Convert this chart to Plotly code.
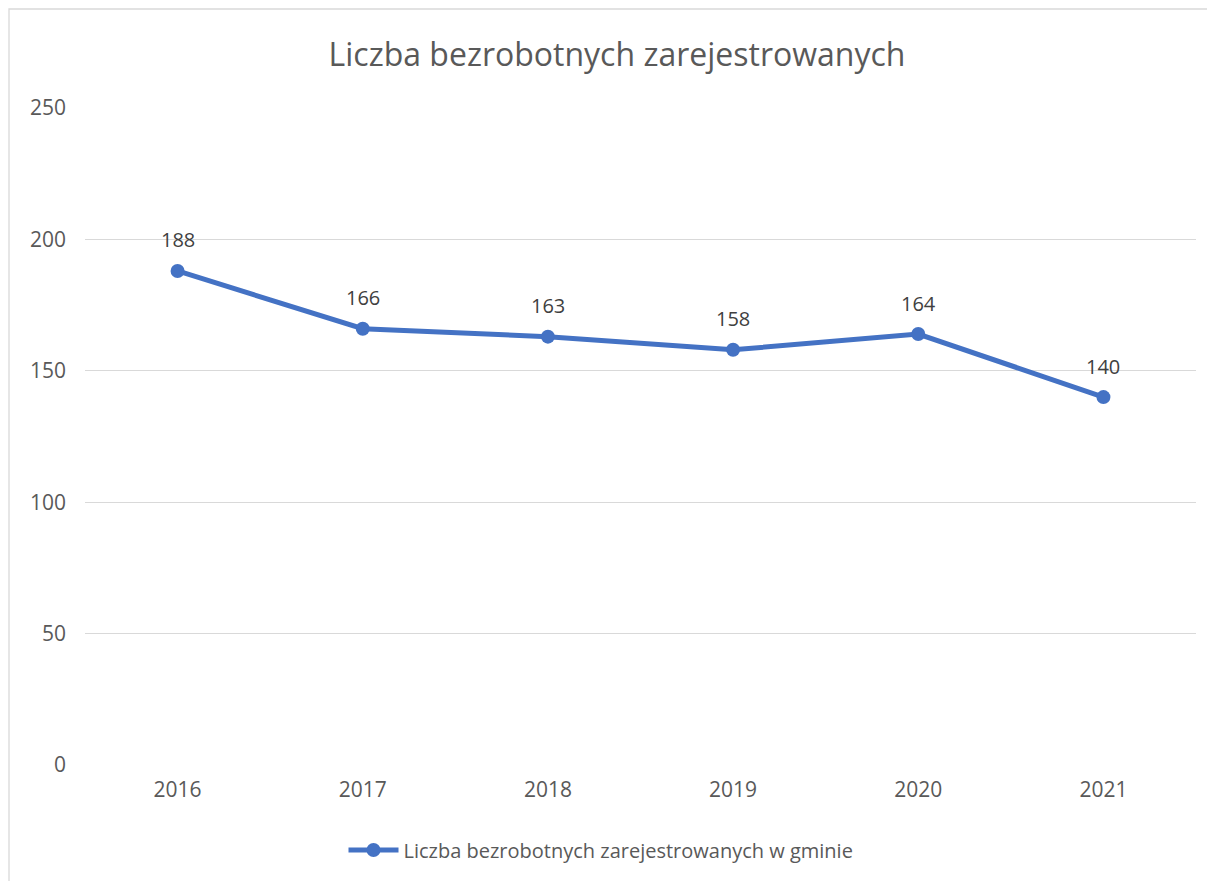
import plotly.graph_objects as go

years = ["2016", "2017", "2018", "2019", "2020", "2021"]
values = [188, 166, 163, 158, 164, 140]
series_name = "Liczba bezrobotnych zarejestrowanych w gminie"
title_text = "Liczba bezrobotnych zarejestrowanych"
y_ticks = [0, 50, 100, 150, 200, 250]

FONT = "Open Sans, Carlito, Calibri, sans-serif"
GREY = "#595959"
BLUE = "#4472C4"

fig = go.Figure()
fig.add_trace(go.Scatter(
    x=years, y=values, name=series_name,
    mode="lines+markers",
    line=dict(color=BLUE, width=5),
    marker=dict(color=BLUE, size=14),
    cliponaxis=False,
))

for i, v in enumerate(values):
    fig.add_annotation(x=i, y=v, xref="x", yref="y", text=str(v), showarrow=False, yshift=31,
                       font=dict(family=FONT, size=20, color="#404040"))

OFF = 8  # page body margin
W, H = 1215 - OFF, 881 - OFF
L, R, T, B = 85 - OFF, 19, 108 - OFF, 116
pw, ph = W - L - R, H - T - B

fig.update_layout(
    width=W, height=H,
    margin=dict(l=L, r=R, t=T, b=B),
    paper_bgcolor="white", plot_bgcolor="white",
    font=dict(family=FONT, color=GREY, size=20),
    title=dict(text=title_text, x=(617 - OFF) / W, xanchor="center", y=1 - (55 - OFF) / H, yanchor="middle",
               font=dict(family=FONT, size=32, color=GREY)),
    showlegend=True,
    legend=dict(orientation="h", x=(601 - 85) / pw, xanchor="center", y=-(850 - OFF - (T + ph)) / ph,
                yanchor="middle", font=dict(family=FONT, size=20, color=GREY), itemwidth=50),
    xaxis=dict(type="category", range=[-0.5, 5.5], showgrid=False, zeroline=False,
               showline=False, ticks="", tickfont=dict(size=21, color=GREY), ticklabelstandoff=10),
    yaxis=dict(range=[0, 250], tickvals=y_ticks, showgrid=True, gridcolor="#D9D9D9", gridwidth=1.3,
               zeroline=False, showline=False, ticks="", tickfont=dict(size=21, color=GREY),
               ticklabelstandoff=18),
)

# chart border
fig.add_shape(type="rect", xref="paper", yref="paper",
              x0=(9 - OFF - L) / pw, x1=(1211 - OFF - L) / pw,
              y0=-(H + 5 - T - ph) / ph, y1=(T + ph - (9 - OFF)) / ph,
              line=dict(color="#D9D9D9", width=1.3), fillcolor="rgba(0,0,0,0)", layer="below")

fig.write_html("out.html")
